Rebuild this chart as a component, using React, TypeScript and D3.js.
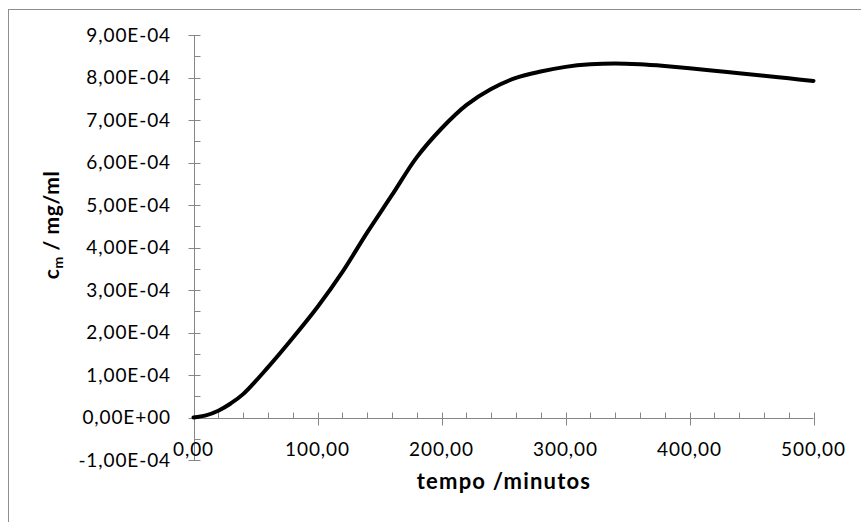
import * as d3 from 'd3'

// tempo em minutos, concentração em unidades de 1e-4 mg/ml
const tempo = [0, 10, 20, 30, 40, 60, 80, 100, 120, 140, 160, 180, 200, 220, 240, 260, 280, 300, 320, 340, 360, 380, 400, 420, 440, 460, 480, 500]
const concentracao = [0, 0.05, 0.16, 0.33, 0.55, 1.18, 1.87, 2.6, 3.42, 4.35, 5.23, 6.12, 6.8, 7.35, 7.73, 7.99, 8.14, 8.25, 8.31, 8.33, 8.31, 8.27, 8.22, 8.16, 8.1, 8.04, 7.98, 7.92]
const xTicks = [0, 100, 200, 300, 400, 500]
const yTicks = [-1, 0, 1, 2, 3, 4, 5, 6, 7, 8, 9]

const W = 861
const H = 522
const FONT = 'Lato, Carlito, Calibri, sans-serif'
const AXIS = '#868686'

function fmtY(v: number) {
  if (v === 0) return '0,00E+00'
  const [m, e] = (v * 1e-4).toExponential(2).split('e')
  const ex = parseInt(e)
  return m.replace('.', ',') + 'E' + (ex < 0 ? '-' : '+') + String(Math.abs(ex)).padStart(2, '0')
}
const fmtX = (v: number) => d3.format('.2f')(v).replace('.', ',')

export default function App() {
  const x = d3.scaleLinear().domain([0, 500]).range([193.5, 813.5])
  const y = d3.scaleLinear().domain([-1, 9]).range([460, 35])

  const data = tempo.map((t, i) => ({ t, c: concentracao[i] }))
  const line = d3.line<{ t: number; c: number }>()
    .x((d) => x(d.t))
    .y((d) => y(d.c))
    .curve(d3.curveCatmullRom.alpha(0.5))

  const x0 = Math.round(x(0)) + 0.5
  const y0 = Math.round(y(0)) + 0.5
  const xMinor = d3.range(20, 501, 20).filter((v) => v % 100 !== 0)
  const yMinor = d3.range(-0.5, 9, 1)

  return (
    <svg width={W} height={H} style={{ position: 'absolute', left: 0, top: 0, background: '#fff' }}>
      <rect x={8.5} y={9.5} width={W + 20} height={H + 20} fill="none" stroke="#8e8e8e" />

      {/* eixo y */}
      <line x1={x0} x2={x0} y1={y(9)} y2={y(-1)} stroke={AXIS} />
      {yTicks.map((v) => (
        <g key={'y' + v}>
          <line x1={x0 - 6} x2={x0 + 6} y1={Math.round(y(v)) + 0.5} y2={Math.round(y(v)) + 0.5} stroke={AXIS} />
          <text x={171} y={y(v)} dy="0.36em" textAnchor="end" fontFamily={FONT} fontSize={19} letterSpacing={0.9} fill="#000">{fmtY(v)}</text>
        </g>
      ))}
      {yMinor.map((v) => (
        <line key={'ym' + v} x1={x0} x2={x0 + 6} y1={Math.round(y(v)) + 0.5} y2={Math.round(y(v)) + 0.5} stroke={AXIS} />
      ))}

      {/* eixo x */}
      <line x1={x(0)} x2={x(500)} y1={y0} y2={y0} stroke={AXIS} />
      {xTicks.map((v) => (
        <g key={'x' + v}>
          <line x1={Math.round(x(v)) + 0.5} x2={Math.round(x(v)) + 0.5} y1={y0 - 6} y2={y0 + 7} stroke={AXIS} />
          <text x={x(v)} y={456} textAnchor="middle" fontFamily={FONT} fontSize={19} letterSpacing={0.9} fill="#000">{fmtX(v)}</text>
        </g>
      ))}
      {xMinor.map((v) => (
        <line key={'xm' + v} x1={Math.round(x(v)) + 0.5} x2={Math.round(x(v)) + 0.5} y1={y0 - 6} y2={y0} stroke={AXIS} />
      ))}

      <path d={line(data) ?? ''} fill="none" stroke="#000" strokeWidth={4} strokeLinecap="round" strokeLinejoin="round" />

      <text x={504} y={489} textAnchor="middle" fontFamily={FONT} fontSize={22} fontWeight="bold" letterSpacing={1.2} fill="#000">tempo /minutos</text>
      <text transform="translate(58.5,225) rotate(-90)" textAnchor="middle" fontFamily={FONT} fontSize={21} fontWeight="bold" letterSpacing={0.6} fill="#000">
        c<tspan fontSize={14} dy={4}>m</tspan><tspan dy={-4}> / mg/ml</tspan>
      </text>
    </svg>
  )
}
